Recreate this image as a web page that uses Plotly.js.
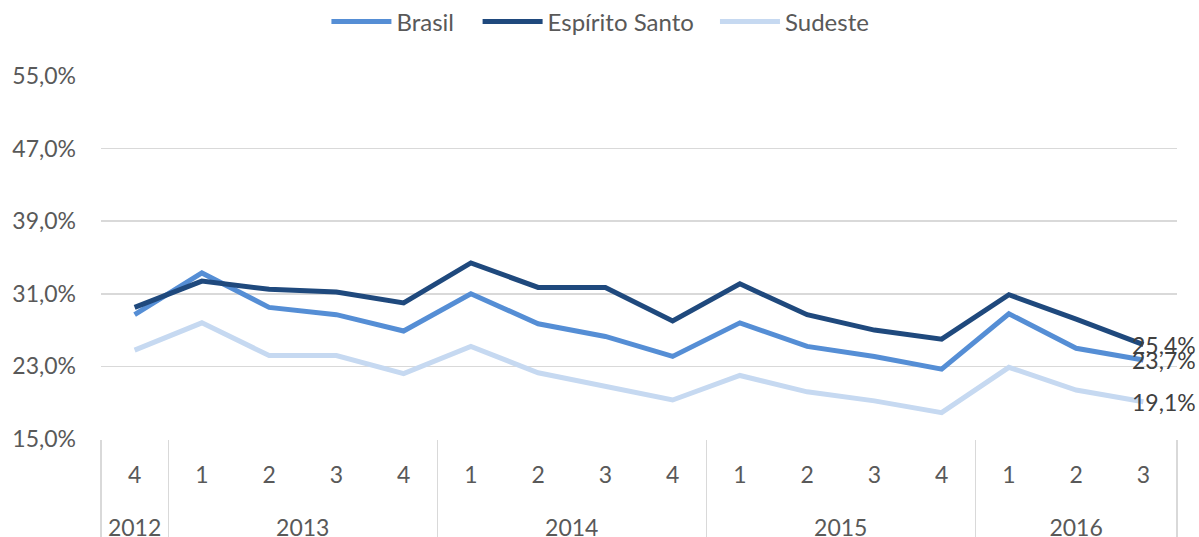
<!DOCTYPE html>
<html>
<head>
<meta charset="utf-8">
<script src="https://cdn.plot.ly/plotly-3.0.1.min.js"></script>
<style>html,body{margin:0;padding:0;background:#fff;}#chart{width:1199px;height:537px;}</style>
</head>
<body>
<div id="chart"></div>
<script>
const years    = ['2012','2013','2013','2013','2013','2014','2014','2014','2014','2015','2015','2015','2015','2016','2016','2016'];
const quarters = ['4','1','2','3','4','1','2','3','4','1','2','3','4','1','2','3'];
const brasil        = [28.7,33.3,29.5,28.7,26.9,31.0,27.7,26.3,24.1,27.8,25.2,24.1,22.7,28.8,25.0,23.7];
const espiritoSanto = [29.5,32.4,31.5,31.2,30.0,34.4,31.7,31.7,28.0,32.1,28.7,27.0,26.0,30.9,28.2,25.4];
const sudeste       = [24.8,27.8,24.2,24.2,22.2,25.2,22.3,20.8,19.3,22.0,20.2,19.2,17.9,22.9,20.4,19.1];
const seriesNames = ['Brasil','Espírito Santo','Sudeste'];
const seriesColors = ['#558ED5','#1F497D','#C6D9F1'];
const yTicks = [15,23,31,39,47,55];

const FONT = 'Lato, "Open Sans", sans-serif';
const SIZE = 23;
const n = years.length;
const idx = years.map((_, i) => i);
const xRange = [-0.5, n - 0.5];

// year groups: centers and boundaries derived from the years array
const groupNames = [], groupCenters = [], boundaries = [-0.5];
let start = 0;
for (let i = 1; i <= n; i++) {
  if (i === n || years[i] !== years[start]) {
    groupNames.push(years[start]);
    groupCenters.push((start + i - 1) / 2);
    boundaries.push(i - 0.5);
    start = i;
  }
}

const fmt = v => v.toFixed(1).replace('.', ',') + '%';
const allSeries = [brasil, espiritoSanto, sudeste];
const legendIds = ['legend', 'legend2', 'legend3'];
const traces = allSeries.map((vals, i) => ({
  type: 'scatter', mode: 'lines', name: seriesNames[i], legend: legendIds[i],
  x: idx, y: vals, xaxis: 'x', yaxis: 'y',
  line: {color: seriesColors[i], width: 5},
  hoverinfo: 'skip'
}));
// invisible helpers so the extra x axes are drawn
traces.push({type: 'scatter', mode: 'none', x: groupCenters, y: groupCenters.map(() => 15), xaxis: 'x2', yaxis: 'y', showlegend: false, hoverinfo: 'skip'});
traces.push({type: 'scatter', mode: 'none', x: boundaries, y: boundaries.map(() => 15), xaxis: 'x3', yaxis: 'y', showlegend: false, hoverinfo: 'skip'});

const lastIdx = n - 1;
const annotations = allSeries.map(vals => ({
  x: lastIdx, y: vals[lastIdx], xref: 'x', yref: 'y',
  text: fmt(vals[lastIdx]), showarrow: false,
  xanchor: 'center', yanchor: 'middle', xshift: 21,
  font: {family: FONT, size: SIZE, color: '#404040'}
}));
const tickFont = {family: FONT, size: SIZE, color: '#595959'};
const legendBase = {
  orientation: 'h', xanchor: 'left', y: 1 - 22 / 537, yanchor: 'middle', yref: 'container',
  font: {family: FONT, size: 24, color: '#595959'}, itemwidth: 60, bgcolor: 'rgba(0,0,0,0)'
};
const legendX = [0.2095, 0.350, 0.5706];
const layout = {
  width: 1199, height: 537,
  margin: {l: 101, r: 22, t: 76, b: 98},
  paper_bgcolor: '#fff', plot_bgcolor: '#fff',
  font: {family: FONT, size: SIZE, color: '#595959'},
  showlegend: true,
  legend:  Object.assign({}, legendBase, {x: legendX[0]}),
  legend2: Object.assign({}, legendBase, {x: legendX[1]}),
  legend3: Object.assign({}, legendBase, {x: legendX[2]}),
  xaxis: {
    range: xRange, tickvals: idx, ticktext: quarters,
    showgrid: false, zeroline: false, showline: false, ticks: '',
    ticklabelstandoff: 20, tickfont: tickFont
  },
  xaxis2: {
    overlaying: 'x', anchor: 'y', side: 'bottom', range: xRange,
    tickvals: groupCenters, ticktext: groupNames,
    showgrid: false, zeroline: false, showline: false, ticks: '',
    ticklabelstandoff: 73, tickfont: tickFont
  },
  xaxis3: {
    overlaying: 'x', anchor: 'y', side: 'bottom', range: xRange,
    tickvals: boundaries, showticklabels: false,
    showgrid: false, zeroline: false, showline: false,
    ticks: 'outside', ticklen: 100, tickwidth: 1.5, tickcolor: '#D9D9D9'
  },
  yaxis: {
    range: [15, 55], tickvals: yTicks, ticktext: yTicks.map(fmt),
    showgrid: true, gridcolor: '#D9D9D9', gridwidth: 1.5, zeroline: false, showline: false,
    ticks: '', ticklabelstandoff: 24, tickfont: tickFont
  },
  annotations: annotations
};
Plotly.newPlot('chart', traces, layout, {displayModeBar: false, staticPlot: true});
</script>
</body>
</html>
